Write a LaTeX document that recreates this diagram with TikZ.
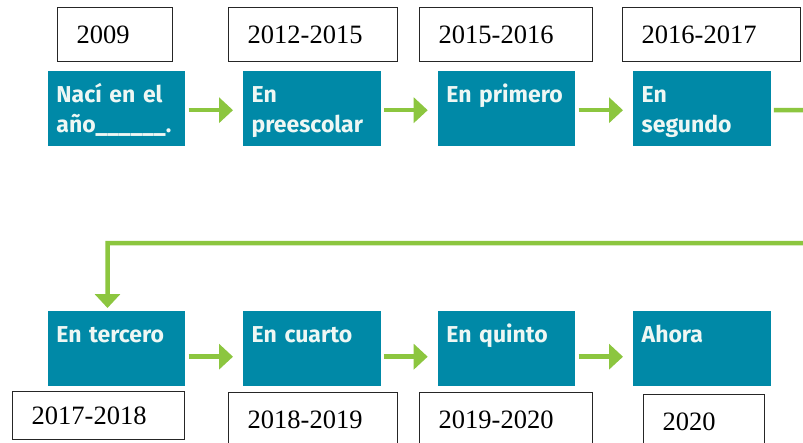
\documentclass[tikz,border=0pt]{standalone}
\usepackage{fontspec}
\setmainfont{Liberation Serif}
\newfontfamily\boxfont{Fira Sans}
\usetikzlibrary{arrows.meta,calc}
\definecolor{tealc}{HTML}{0089A7}
\definecolor{greenc}{HTML}{8CC63F}
\definecolor{boxtxt}{HTML}{EEF7F4}
\begin{document}
\begin{tikzpicture}[x=1pt,y=-1pt,
  tealbox/.style={fill=tealc, draw=none, minimum width=137.5pt, minimum height=75pt, inner sep=0pt, anchor=north west},
  tealtxt/.style={font=\boxfont\bfseries\fontsize{23}{30}\selectfont, text=boxtxt, text width=132pt, align=left, inner sep=0pt, anchor=base west},
  datebox/.style={draw=black!85, line width=1.4pt, fill=white, inner xsep=19pt, inner ysep=0pt, align=left, anchor=north west, font=\fontsize{26.5}{30}\selectfont},
  flow/.style={draw=greenc, line width=4.5pt, -{Triangle[length=14pt,width=25pt]}},
]
\useasboundingbox (0,0) rectangle (803,442);
\fill[white] (0,0) rectangle (803,442);
\clip (0,0) rectangle (803,442);

% teal boxes
\node[tealbox] (t1) at (47.7,71) {};
\node[tealbox] (t2) at (243,71) {};
\node[tealbox] (t3) at (437.7,71) {};
\node[tealbox] (t4) at (633,71) {};
\node[tealbox] (t5) at (47.7,311) {};
\node[tealbox] (t6) at (243,311) {};
\node[tealbox] (t7) at (437.7,311) {};
\node[tealbox] (t8) at (633,311) {};

% texts in teal boxes
\node[tealtxt] (x1) at ($(t1.north west)+(8.5,31)$) {Nací en el\\año\_\_\_\_\_\_.};
\node[tealtxt] (x2) at ($(t2.north west)+(8.5,31)$) {En\\preescolar};
\node[tealtxt] (x3) at ($(t3.north west)+(8.5,31)$) {En primero};
\node[tealtxt] (x4) at ($(t4.north west)+(8.5,31)$) {En\\segundo};
\node[tealtxt] (x5) at ($(t5.north west)+(8.5,31)$) {En tercero};
\node[tealtxt] (x6) at ($(t6.north west)+(8.5,31)$) {En cuarto};
\node[tealtxt] (x7) at ($(t7.north west)+(8.5,31)$) {En quinto};
\node[tealtxt] (x8) at ($(t8.north west)+(8.5,31)$) {Ahora};

% date boxes
\node[datebox, text width=77pt, minimum height=54pt] (d1) at (57,7) {2009};
\node[datebox, text width=131pt, minimum height=54pt] (d2) at (228,7) {2012-2015};
\node[datebox, text width=135pt, minimum height=54pt] (d3) at (419,7) {2015-2016};
\node[datebox, text width=140pt, minimum height=54pt] (d4) at (622,7) {2016-2017};
\node[datebox, text width=134pt, minimum height=48pt] (d5) at (12,391) {2017-2018};
\node[datebox, text width=131pt, minimum height=55pt] (d6) at (228,392) {2018-2019};
\node[datebox, text width=135pt, minimum height=55pt] (d7) at (419,392) {2019-2020};
\node[datebox, text width=83pt, minimum height=54pt] (d8) at (643,394) {2020};

% connectors top row
\draw[flow] ($(t1.east)+(3,1.5)$) -- ($(t2.west)+(-10,1.5)$);
\draw[flow] ($(t2.east)+(3,1.5)$) -- ($(t3.west)+(-10,1.5)$);
\draw[flow] ($(t3.east)+(3,1.5)$) -- ($(t4.west)+(-10,1.5)$);
% return connector
\coordinate (r1) at (840,110);
\coordinate (r2) at (840,243);
\coordinate (r3) at (107.5,243);
\draw[flow] ($(t4.east)+(3,1.5)$) -- (r1) -- (r2) -- (r3) -- ($(r3 |- t5.north)+(0,-3)$);
% connectors bottom row
\draw[flow] ($(t5.east)+(3,8)$) -- ($(t6.west)+(-10,8)$);
\draw[flow] ($(t6.east)+(3,8)$) -- ($(t7.west)+(-10,8)$);
\draw[flow] ($(t7.east)+(3,8)$) -- ($(t8.west)+(-10,8)$);
\end{tikzpicture}
\end{document}
